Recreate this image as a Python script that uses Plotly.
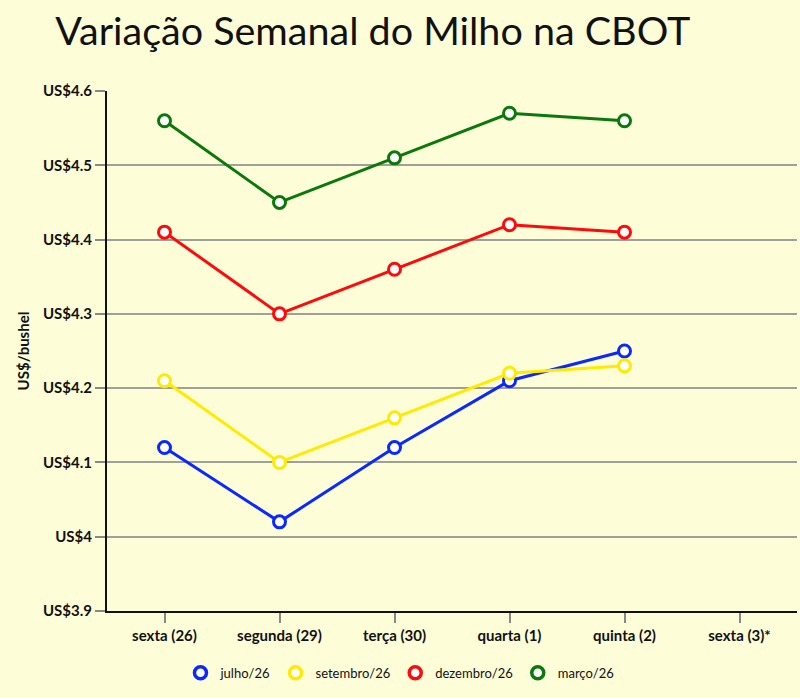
import plotly.graph_objects as go

categories = ["sexta (26)", "segunda (29)", "terça (30)", "quarta (1)", "quinta (2)", "sexta (3)*"]
days_with_data = categories[:5]
julho = [4.12, 4.02, 4.12, 4.21, 4.25]
setembro = [4.21, 4.10, 4.16, 4.22, 4.23]
dezembro = [4.41, 4.30, 4.36, 4.42, 4.41]
marco = [4.56, 4.45, 4.51, 4.57, 4.56]
series_names = ["julho/26", "setembro/26", "dezembro/26", "março/26"]
series_colors = ["#0a28ff", "#ffeb00", "#ff0a0a", "#0b780b"]
y_tick_vals = [3.9, 4.0, 4.1, 4.2, 4.3, 4.4, 4.5, 4.6]
y_tick_text = ["US$3.9", "US$4", "US$4.1", "US$4.2", "US$4.3", "US$4.4", "US$4.5", "US$4.6"]

bg = "#fdfdd8"
font_family = "Lato, 'Open Sans', sans-serif"

fig = go.Figure()
for name, vals, col in zip(series_names, [julho, setembro, dezembro, marco], series_colors):
    fig.add_trace(go.Scatter(
        x=days_with_data, y=vals, name=name, mode="lines+markers", showlegend=False,
        line=dict(color=col, width=3),
        marker=dict(symbol="circle", size=12, color="white", line=dict(color=col, width=3)),
    ))
# legend entries: marker only
for name, col in zip(series_names, series_colors):
    fig.add_trace(go.Scatter(
        x=[None], y=[None], name=name, mode="markers", showlegend=True,
        marker=dict(symbol="circle", size=12, color="white", line=dict(color=col, width=3.5)),
    ))

tick_font = dict(size=15, family=font_family, weight="bold", color="#111111")

fig.update_layout(
    width=800, height=698,
    paper_bgcolor=bg, plot_bgcolor=bg,
    margin=dict(l=107, r=3, t=91, b=87, autoexpand=False),
    title=dict(text="Variação Semanal do Milho na CBOT", x=0.069, xanchor="left", y=0.955, yanchor="middle",
               font=dict(family=font_family, size=39.5, color="#111111")),
    font=dict(family=font_family, color="#111111"),
    showlegend=True,
    legend=dict(orientation="h", x=0.4246, xanchor="center", y=-0.09, yanchor="top",
                font=dict(size=13, color="#111111"), bgcolor="rgba(0,0,0,0)",
                itemwidth=30, tracegroupgap=0),
    xaxis=dict(type="category", categoryorder="array", categoryarray=categories,
               tickvals=categories, range=[-0.5, 5.5], tickangle=0,
               showline=True, linecolor="#111111", linewidth=2,
               ticks="outside", ticklen=10, tickcolor="#888888", tickwidth=1.5,
               showgrid=False, zeroline=False, tickfont=tick_font),
    yaxis=dict(range=[3.9, 4.6], tickvals=y_tick_vals, ticktext=y_tick_text,
               showline=True, linecolor="#111111", linewidth=2,
               ticks="outside", ticklen=10, tickcolor="#888888", tickwidth=1.5,
               showgrid=True, gridcolor="#a0a09a", gridwidth=1.5, zeroline=False,
               tickfont=tick_font,
               title=dict(text="US$/bushel", standoff=10,
                          font=dict(size=15, family=font_family, weight="bold", color="#111111"))),
)

fig.write_html("out.html")
